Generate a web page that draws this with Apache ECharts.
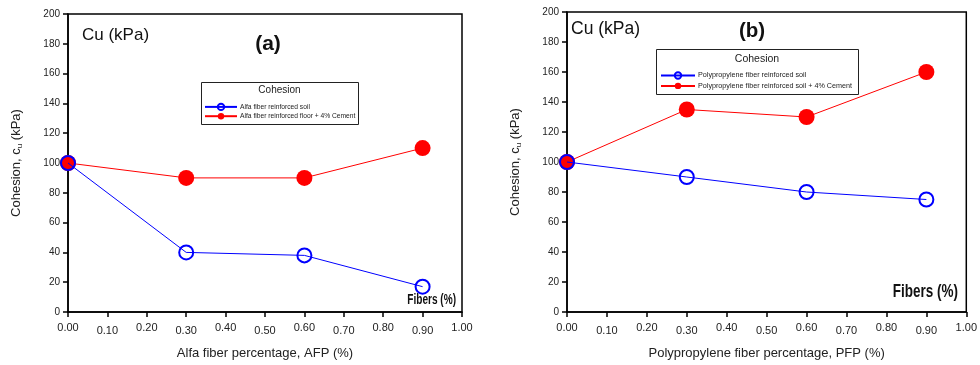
<!DOCTYPE html>
<html>
<head>
<meta charset="utf-8">
<script src="https://cdn.jsdelivr.net/npm/echarts@6/dist/echarts.min.js"></script>
<style>
html,body{margin:0;padding:0;background:#fff;}
#c{width:980px;height:365px;}
</style>
</head>
<body>
<div id="c"></div>
<script>
// ---- data ----
const fiberPct = [0, 0.3, 0.6, 0.9];
const alfaSoil = [100, 40, 38, 17];
const alfaCement = [100, 90, 90, 110];
const ppSoil = [100, 90, 80, 75];
const ppCement = [100, 135, 130, 160];
const nameAlfaSoil = 'Alfa fiber reinforced soil';
const nameAlfaCement = 'Alfa fiber reinforced floor + 4% Cement';
const namePpSoil = 'Polypropylene fiber reinforced soil';
const namePpCement = 'Polypropylene fiber reinforced soil + 4% Cement';
const xTitleA = 'Alfa fiber percentage, AFP (%)';
const xTitleB = 'Polypropylene fiber percentage, PFP (%)';
const yTitle = 'Cohesion, c{sub|u} (kPa)';

const FONT = 'Liberation Sans, Arial, sans-serif';

function pairs(xs, ys){ return xs.map((x,i)=>[x, ys[i]]); }

function xAxis(gridIndex, title){
  return {
    type:'value', gridIndex, min:0, max:1, interval:0.1,
    name:title, nameLocation:'middle', nameGap:35,
    nameTextStyle:{fontFamily:FONT, fontSize:13, color:'#222'},
    axisLine:{show:true, lineStyle:{color:'#000', width:1.5}},
    axisTick:{show:true, inside:false, length:5, lineStyle:{color:'#000', width:1.5}},
    splitLine:{show:false},
    axisLabel:{
      margin:10, fontFamily:FONT, fontSize:11, color:'#222',
      formatter:function(v){
        const s = v.toFixed(2);
        return (Math.round(v*10)%2) ? '{lo|'+s+'}' : '{hi|'+s+'}';
      },
      rich:{
        hi:{fontFamily:FONT, fontSize:11, color:'#222', padding:[0,0,3,0]},
        lo:{fontFamily:FONT, fontSize:11, color:'#222', padding:[3,0,0,0]}
      }
    }
  };
}
function yAxis(gridIndex){
  return {
    type:'value', gridIndex, min:0, max:200, interval:20,
    name:yTitle, nameLocation:'middle', nameGap:44,
    nameTextStyle:{fontFamily:FONT, fontSize:13, color:'#222',
      rich:{sub:{fontFamily:FONT, fontSize:8, color:'#222', padding:[7,0,0,0]}}},
    axisLine:{show:true, lineStyle:{color:'#000', width:1.5}},
    axisTick:{show:true, inside:false, length:5, lineStyle:{color:'#000', width:1.5}},
    splitLine:{show:false},
    axisLabel:{margin:8, fontFamily:FONT, fontSize:10, color:'#222'}
  };
}
function redSeries(name, xi, data){
  return {
    name, type:'line', xAxisIndex:xi, yAxisIndex:xi, data,
    symbol:'circle', symbolSize:16,
    itemStyle:{color:'#ff0000'},
    lineStyle:{color:'#ff0000', width:1},
    z:2, animation:false
  };
}
function blueSeries(name, xi, data){
  return {
    name, type:'line', xAxisIndex:xi, yAxisIndex:xi, data,
    symbol:'circle', symbolSize:14,
    itemStyle:{color:'rgba(0,0,0,0)', borderColor:'#0000ff', borderWidth:2},
    lineStyle:{color:'#0000ff', width:1},
    z:3, animation:false
  };
}
function legend(left, top, gap, fs, itemW, names){
  return {
    orient:'vertical', left, top, itemGap:gap, itemWidth:itemW, itemHeight:8,
    padding:0, data:names, selectedMode:false,
    textStyle:{fontFamily:FONT, fontSize:fs, color:'#222', padding:[0,0,0,-2]}
  };
}

const chart = echarts.init(document.getElementById('c'));
chart.setOption({
  animation:false,
  grid:[
    {left:68, top:14, width:394, height:299, show:true, borderColor:'#000', borderWidth:1.5, backgroundColor:'transparent'},
    {left:567, top:12, width:402, height:300, show:true, borderColor:'#000', borderWidth:1.5, backgroundColor:'transparent'}
  ],
  xAxis:[xAxis(0, xTitleA), xAxis(1, xTitleB)],
  yAxis:[yAxis(0), yAxis(1)],
  legend:[
    legend(204, 102.7, 1.6, 6.7, 32, [nameAlfaSoil, nameAlfaCement]),
    legend(660, 71.3, 2.7, 7.2, 34, [namePpSoil, namePpCement])
  ],
  series:[
    redSeries(nameAlfaCement, 0, pairs(fiberPct, alfaCement)),
    blueSeries(nameAlfaSoil, 0, pairs(fiberPct, alfaSoil)),
    redSeries(namePpCement, 1, pairs(fiberPct, ppCement)),
    blueSeries(namePpSoil, 1, pairs(fiberPct, ppSoil))
  ],
  graphic:[
    {type:'rect', left:201, top:82, shape:{width:157, height:42}, style:{fill:'#fff', stroke:'#222', lineWidth:1}, z:-1},
    {type:'rect', left:656, top:49, shape:{width:202, height:45}, style:{fill:'#fff', stroke:'#222', lineWidth:1}, z:-1},
    {type:'text', x:279.5, y:90.5, style:{text:'Cohesion', fontFamily:FONT, fontSize:10, fill:'#222', align:'center', verticalAlign:'middle'}},
    {type:'text', x:757, y:59.5, style:{text:'Cohesion', fontFamily:FONT, fontSize:10.5, fill:'#222', align:'center', verticalAlign:'middle'}},
    {type:'text', x:82, y:35, style:{text:'Cu (kPa)', fontFamily:FONT, fontSize:17, fill:'#111', verticalAlign:'middle'}},
    {type:'text', x:571, y:29.5, style:{text:'Cu (kPa)', fontFamily:FONT, fontSize:17.5, fill:'#111', verticalAlign:'middle'}},
    {type:'text', x:268, y:44, style:{text:'(a)', fontFamily:FONT, fontWeight:'bold', fontSize:21, fill:'#111', align:'center', verticalAlign:'middle'}},
    {type:'text', x:752, y:31, style:{text:'(b)', fontFamily:FONT, fontWeight:'bold', fontSize:20.5, fill:'#111', align:'center', verticalAlign:'middle'}},
    {type:'text', x:456, y:300.5, scaleX:0.72, style:{text:'Fibers (%)', fontFamily:FONT, fontWeight:'bold', fontSize:14, fill:'#111', align:'right', verticalAlign:'middle'}},
    {type:'text', x:958, y:292, scaleX:0.75, style:{text:'Fibers (%)', fontFamily:FONT, fontWeight:'bold', fontSize:18, fill:'#111', align:'right', verticalAlign:'middle'}}
  ]
});
</script>
</body>
</html>
